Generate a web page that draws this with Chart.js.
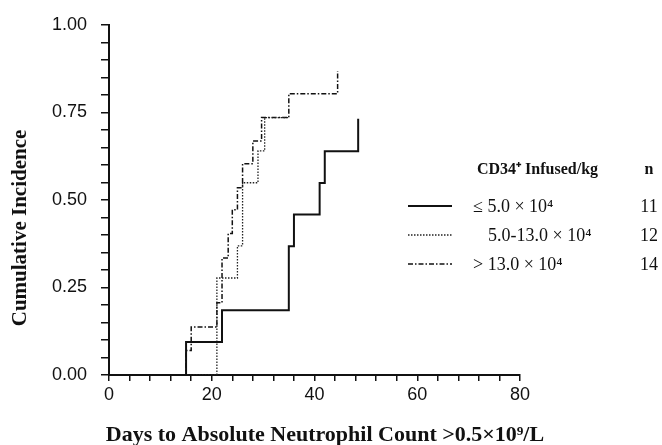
<!DOCTYPE html>
<html>
<head>
<meta charset="utf-8">
<script src="https://cdn.jsdelivr.net/npm/chart.js@4.4.1/dist/chart.umd.min.js"></script>
<style>
  html, body { margin: 0; padding: 0; background: #fff; }
</style>
</head>
<body>
<canvas id="c" width="662" height="445"></canvas>
<script>
// cumulative incidence curves (day, value)
const lowDays  = [0, 15, 22, 35, 36, 41, 42, 48.5];
const lowInc   = [0, 0.094, 0.185, 0.368, 0.458, 0.548, 0.639, 0.732];
const midDays  = [0, 21, 25, 26, 29, 30.3, 35];
const midInc   = [0, 0.277, 0.369, 0.549, 0.640, 0.735, 0.735];
const highDays = [0, 15, 16, 21, 22, 23.2, 24, 25, 26, 28, 29.7, 35, 44.5];
const highInc  = [0, 0.070, 0.137, 0.206, 0.334, 0.404, 0.472, 0.535, 0.603, 0.668, 0.735, 0.803, 0.868];

const groupLabels = ['\u2264 5.0 \u00d7 10\u2074', '5.0-13.0 \u00d7 10\u2074', '> 13.0 \u00d7 10\u2074'];
const groupN = ['11', '12', '14'];
const xMajor = [0, 20, 40, 60, 80];
const yMajor = [0, 0.25, 0.5, 0.75, 1];
const xTitle = 'Days to Absolute Neutrophil Count >0.5\u00d710\u2079/L';
const yTitle = 'Cumulative Incidence';

const toPts = (xs, ys) => xs.map((x, i) => ({ x, y: ys[i] }));

// axis titles + legend table drawn by hand (header row and "n" column)
const annotations = {
  id: 'annotations',
  afterDraw(chart) {
    const ctx = chart.ctx;
    ctx.save();
    ctx.fillStyle = '#111';

    // axis titles
    ctx.font = 'bold 22px "Liberation Serif"';
    ctx.textAlign = 'center';
    ctx.textBaseline = 'alphabetic';
    ctx.fillText(xTitle, 325, 441);
    ctx.save();
    ctx.translate(26, 228);
    ctx.rotate(-Math.PI / 2);
    ctx.font = 'bold 21px "Liberation Serif"';
    ctx.fillText(yTitle, 0, 0);
    ctx.restore();

    ctx.textBaseline = 'middle';
    ctx.font = 'bold 16px "Liberation Serif"';
    ctx.textAlign = 'left';
    ctx.fillText('CD34\u207a Infused/kg', 477, 170);
    ctx.textAlign = 'center';
    ctx.fillText('n', 649, 170);

    const rowsY = [206, 235, 264];
    const textX = [473, 488, 473];
    chart.data.datasets.forEach((ds, i) => {
      const y = rowsY[i];
      ctx.strokeStyle = ds.borderColor;
      ctx.lineWidth = ds.borderWidth;
      ctx.setLineDash(ds.borderDash || []);
      ctx.beginPath();
      ctx.moveTo(408, y);
      ctx.lineTo(452, y);
      ctx.stroke();
      ctx.setLineDash([]);
      ctx.font = '18px "Liberation Serif"';
      ctx.textAlign = 'left';
      ctx.fillText(groupLabels[i], textX[i], y + 1);
      ctx.textAlign = 'center';
      ctx.fillText(groupN[i], 649, y + 1);
    });
    ctx.restore();
  }
};

new Chart(document.getElementById('c'), {
  type: 'line',
  data: {
    datasets: [
      { label: groupLabels[0], data: toPts(lowDays, lowInc), borderColor: '#111', borderWidth: 2, borderDash: [] },
      { label: groupLabels[1], data: toPts(midDays, midInc), borderColor: '#222', borderWidth: 1.3, borderDash: [1.5, 1.5] },
      { label: groupLabels[2], data: toPts(highDays, highInc), borderColor: '#111', borderWidth: 1.5, borderDash: [5, 2, 1.5, 2] }
    ]
  },
  plugins: [annotations],
  options: {
    responsive: false,
    animation: false,
    devicePixelRatio: 1,
    layout: { padding: { top: 20, right: 142, bottom: 0, left: 0 } },
    elements: {
      line: { stepped: 'before', tension: 0, fill: false },
      point: { radius: 0, hoverRadius: 0 }
    },
    plugins: { legend: { display: false }, tooltip: { enabled: false } },
    scales: {
      x: {
        type: 'linear', min: 0, max: 80,
        afterFit: s => { s.height = 70; },
        border: { display: true, color: '#111', width: 2 },
        grid: { drawOnChartArea: false, drawTicks: true, tickLength: 6, color: '#111', lineWidth: 1.5 },
        ticks: {
          stepSize: 4, autoSkip: false, maxRotation: 0, padding: 3, color: '#111',
          font: { family: '"Liberation Sans"', size: 18 },
          callback: v => xMajor.includes(v) ? String(v) : ''
        }
      },
      y: {
        min: 0, max: 1,
        afterFit: s => { s.width = 109; },
        border: { display: true, color: '#111', width: 2 },
        grid: { drawOnChartArea: false, drawTicks: true, tickLength: 8, color: '#111', lineWidth: 1.5 },
        ticks: {
          stepSize: 0.05, autoSkip: false, padding: 14, color: '#111',
          font: { family: '"Liberation Sans"', size: 18 },
          callback: v => yMajor.some(m => Math.abs(m - v) < 1e-6) ? v.toFixed(2) : ''
        }
      }
    }
  }
});
</script>
</body>
</html>
